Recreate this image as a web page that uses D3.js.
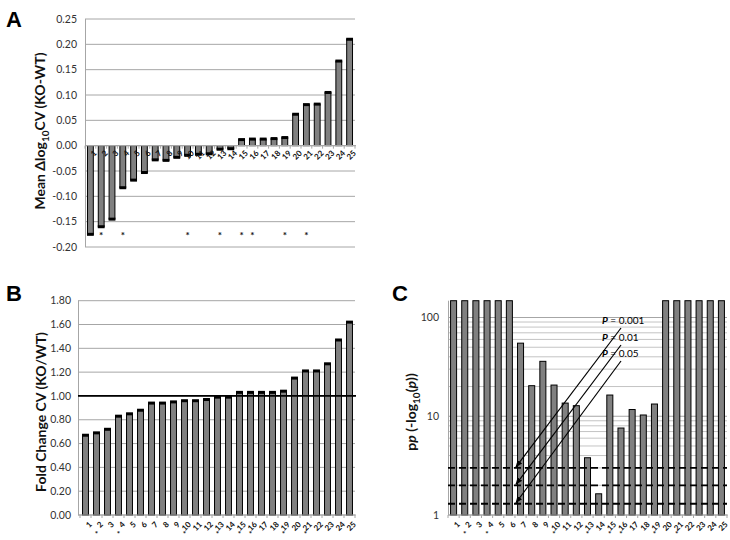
<!DOCTYPE html>
<html><head><meta charset="utf-8">
<script src="https://cdn.jsdelivr.net/npm/d3@7"></script>
<style>body{margin:0;background:#fff}svg{font-family:Lato,"Open Sans",sans-serif}</style>
</head><body><svg id="c" width="730" height="540"></svg>
<script>
const categories = d3.range(1,26).map(String);
const starred = ["2","4","10","13","15","16","19","21"];
const deltaLogCV = [-0.175,-0.160,-0.145,-0.083,-0.068,-0.053,-0.028,-0.029,-0.023,-0.019,-0.017,-0.016,-0.007,-0.006,0.012,0.013,0.013,0.014,0.016,0.062,0.081,0.082,0.105,0.167,0.210];
const foldChangeCV = [0.67,0.69,0.72,0.83,0.85,0.88,0.94,0.94,0.95,0.96,0.96,0.97,0.99,0.99,1.03,1.03,1.03,1.03,1.04,1.15,1.21,1.21,1.27,1.47,1.62];
const negLogP = [1000,1000,1000,1000,1000,1000,55,20.4,36,20.7,13.6,12.8,3.8,1.64,16.4,7.6,11.7,10.3,13.3,1000,1000,1000,1000,1000,1000];
const ticksA = [-0.20,-0.15,-0.10,-0.05,0.00,0.05,0.10,0.15,0.20,0.25];
const ticksB = [0,0.2,0.4,0.6,0.8,1.0,1.2,1.4,1.6,1.8];
const ticksC = [1,10,100];
const pThresholds = [{label:"0.001",v:3},{label:"0.01",v:2},{label:"0.05",v:1.3}];

const svg = d3.select("#c");
const grid="#a6a6a6", barFill="#808080";

function letter(t,x,y){svg.append("text").attr("x",x).attr("y",y).attr("font-size",22).attr("font-weight","bold").attr("font-family","Liberation Sans,Arial").text(t);}
letter("A",6,27); letter("B",6,301); letter("C",392,301);

function xLabels(g,x,y0){
  categories.forEach(c=>{
    g.append("text").attr("transform",`translate(${x(c)+x.bandwidth()/2+3},${y0+4}) rotate(-45)`)
     .attr("text-anchor","end").attr("font-size",8).attr("font-weight","bold").attr("fill","#111").attr("dy","0.7em").text(c);
  });
}
function stars(g,x,y,size){
  starred.forEach(c=>g.append("text").attr("x",x(c)+x.bandwidth()/2).attr("y",y).attr("text-anchor","middle").attr("font-size",size).attr("font-weight","bold").attr("fill","#111").text("*"));
}
function bars(g,x,y,vals,base){
  vals.forEach((v,i)=>{
    const c=categories[i], cx=x(c), w=x.bandwidth();
    const y1=y(v), yb=y(base);
    g.append("rect").attr("x",cx).attr("y",Math.min(y1,yb)).attr("width",w).attr("height",Math.abs(yb-y1)).attr("fill",barFill).attr("stroke","#000").attr("stroke-width",1);
    g.append("rect").attr("x",cx-0.5).attr("y",y1-1.5).attr("width",w+1).attr("height",3).attr("fill","#000");
  });
}

// Panel A
{
  const x=d3.scaleBand().domain(categories).range([85,355]).paddingInner(0.46).paddingOuter(0.23);
  const y=d3.scaleLinear().domain([-0.20,0.25]).range([247,19]);
  const g=svg.append("g");
  ticksA.forEach(t=>{
    g.append("line").attr("x1",85).attr("x2",355).attr("y1",y(t)).attr("y2",y(t)).attr("stroke",grid).attr("stroke-width",1);
    g.append("text").attr("x",77).attr("y",y(t)).attr("dy","0.35em").attr("text-anchor","end").attr("font-size",10.5).attr("fill","#333").text(t.toFixed(2));
  });
  g.append("line").attr("x1",85.5).attr("x2",85.5).attr("y1",19).attr("y2",247).attr("stroke",grid);
  bars(g,x,y,deltaLogCV,0);
  const step=x.step();
  g.append("line").attr("x1",85).attr("x2",356).attr("y1",y(0)).attr("y2",y(0)).attr("stroke",grid).attr("stroke-width",1.2);
  d3.range(26).forEach(i=>g.append("line").attr("x1",85+i*step).attr("x2",85+i*step).attr("y1",y(0)).attr("y2",y(0)+3).attr("stroke",grid));
  xLabels(g,x,y(0));
  stars(g,x,239,10);
  g.append("text").attr("transform",`translate(45,131) rotate(-90)`).attr("text-anchor","middle").attr("font-size",14).attr("font-weight","bold").attr("fill","#111")
    .call(t=>{t.append("tspan").text("Mean Δlog");t.append("tspan").attr("font-size",10).attr("dy",4).text("10");t.append("tspan").attr("dy",-4).text("CV (KO-WT)");});
}

// Panel B
{
  const x=d3.scaleBand().domain(categories).range([80,355]).paddingInner(0.46).paddingOuter(0.23);
  const y=d3.scaleLinear().domain([0,1.8]).range([515,300.7]);
  const g=svg.append("g");
  ticksB.forEach(t=>{
    g.append("line").attr("x1",78).attr("x2",355).attr("y1",y(t)).attr("y2",y(t)).attr("stroke",grid);
    g.append("text").attr("x",71).attr("y",y(t)).attr("dy","0.35em").attr("text-anchor","end").attr("font-size",10.5).attr("fill","#333").text(t.toFixed(2));
  });
  g.append("line").attr("x1",78.5).attr("x2",78.5).attr("y1",300.7).attr("y2",515).attr("stroke",grid);
  bars(g,x,y,foldChangeCV,0);
  const step=x.step();
  g.append("line").attr("x1",78).attr("x2",356).attr("y1",y(0)).attr("y2",y(0)).attr("stroke",grid).attr("stroke-width",1.2);
  d3.range(26).forEach(i=>g.append("line").attr("x1",80+i*step).attr("x2",80+i*step).attr("y1",y(0)).attr("y2",y(0)+3).attr("stroke",grid));
  g.append("line").attr("x1",78).attr("x2",356).attr("y1",y(1)).attr("y2",y(1)).attr("stroke","#000").attr("stroke-width",1.8);
  xLabels(g,x,y(0)+2);
  stars(g,x,537,8);
  g.append("text").attr("transform",`translate(46,412) rotate(-90)`).attr("text-anchor","middle").attr("font-size",14).attr("font-weight","bold").attr("fill","#111").text("Fold Change CV (KO/WT)");
}

// Panel C
{
  const x=d3.scaleBand().domain(categories).range([448,727]).paddingInner(0.46).paddingOuter(0.23);
  const y=d3.scaleLog().domain([1,148]).range([515,300.7]).clamp(true);
  const g=svg.append("g");
  const minor=[];
  [1,10,100].forEach(d=>d3.range(1,10).forEach(k=>{if(k*d<=148)minor.push(k*d);}));
  minor.forEach(t=>g.append("line").attr("x1",448).attr("x2",727).attr("y1",y(t)).attr("y2",y(t)).attr("stroke",ticksC.includes(t)?grid:"#c4c4c4"));
  ticksC.forEach(t=>g.append("text").attr("x",439).attr("y",y(t)).attr("dy","0.35em").attr("text-anchor","end").attr("font-size",10.5).attr("fill","#333").text(t));
  g.append("line").attr("x1",448.5).attr("x2",448.5).attr("y1",300.7).attr("y2",515).attr("stroke",grid);
  negLogP.forEach((v,i)=>{
    const c=categories[i];
    g.append("rect").attr("x",x(c)).attr("y",y(v)).attr("width",x.bandwidth()).attr("height",y(1)-y(v)).attr("fill",barFill).attr("stroke","#000").attr("stroke-width",1);
  });
  const step=x.step();
  g.append("line").attr("x1",448).attr("x2",728).attr("y1",515).attr("y2",515).attr("stroke",grid).attr("stroke-width",1.2);
  d3.range(26).forEach(i=>g.append("line").attr("x1",448+i*step).attr("x2",448+i*step).attr("y1",515).attr("y2",518).attr("stroke",grid));
  pThresholds.forEach(p=>g.append("line").attr("x1",448).attr("x2",727).attr("y1",y(p.v)).attr("y2",y(p.v)).attr("stroke","#000").attr("stroke-width",1.8).attr("stroke-dasharray","7,4"));
  svg.append("defs").append("marker").attr("id","ah").attr("viewBox","0 0 10 10").attr("refX",9).attr("refY",5).attr("markerWidth",6).attr("markerHeight",6).attr("orient","auto")
    .append("path").attr("d","M0,1 L10,5 L0,9 Z").attr("fill","#000");
  const textY=[324,341,357];
  pThresholds.forEach((p,i)=>{
    const ty=textY[i];
    g.append("text").attr("x",602).attr("y",ty).attr("font-size",10).attr("fill","#000")
      .call(t=>{t.append("tspan").attr("font-style","italic").attr("font-weight","bold").text("P");t.append("tspan").text(" = "+p.label);});
    g.append("line").attr("x1",621).attr("y1",ty+4).attr("x2",516).attr("y2",y(p.v)-1).attr("stroke","#000").attr("stroke-width",1.2).attr("marker-end","url(#ah)");
  });
  xLabels(g,x,517);
  stars(g,x,537,8);
  g.append("text").attr("transform",`translate(416,412) rotate(-90)`).attr("text-anchor","middle").attr("font-size",14).attr("font-weight","bold").attr("fill","#111")
    .call(t=>{t.append("tspan").text("p");t.append("tspan").attr("font-style","italic").text("p");t.append("tspan").text(" (-log");t.append("tspan").attr("font-size",10).attr("dy",4).text("10");t.append("tspan").attr("dy",-4).text("(");t.append("tspan").attr("font-style","italic").text("p");t.append("tspan").text("))");});
}
</script></body></html>
